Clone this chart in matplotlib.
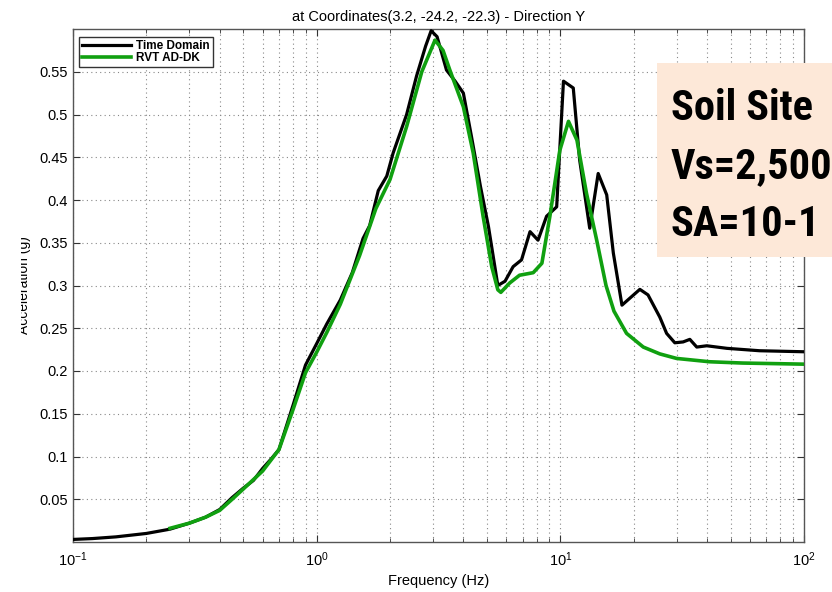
import matplotlib
matplotlib.use("Agg")
import matplotlib.pyplot as plt
from matplotlib.ticker import FixedLocator, NullFormatter, LogLocator
from matplotlib.patches import Rectangle

plt.rcParams['font.family'] = ['Liberation Sans', 'DejaVu Sans']
plt.rcParams['mathtext.default'] = 'regular'

# ---- data ----
freq_td = [0.1, 0.12, 0.15, 0.2, 0.25, 0.3, 0.35, 0.4, 0.45, 0.5, 0.55, 0.6, 0.65, 0.7,
           0.8, 0.9, 1.0, 1.1, 1.25, 1.4, 1.55, 1.65, 1.79, 1.94, 2.06, 2.34, 2.57, 2.8,
           2.95, 3.12, 3.41, 3.70, 4.0, 4.32, 4.70, 5.07, 5.54, 5.93, 6.40, 6.93, 7.51,
           8.1, 8.78, 9.66, 10.3, 11.3, 12.0, 13.2, 14.3, 15.5, 16.5, 17.9, 21.2, 22.9,
           25.6, 27.3, 29.5, 31.9, 34.0, 36.3, 39.9, 48.3, 65.7, 100.0]
acc_td = [0.003, 0.004, 0.006, 0.010, 0.015, 0.022, 0.029, 0.038, 0.052, 0.063, 0.072,
          0.086, 0.097, 0.108, 0.160, 0.207, 0.232, 0.255, 0.283, 0.315, 0.355, 0.370,
          0.411, 0.428, 0.455, 0.500, 0.545, 0.580, 0.598, 0.591, 0.552, 0.539, 0.525,
          0.474, 0.416, 0.369, 0.300, 0.305, 0.322, 0.330, 0.363, 0.353, 0.381, 0.392,
          0.539, 0.531, 0.447, 0.367, 0.431, 0.406, 0.338, 0.277, 0.2955, 0.289, 0.263,
          0.244, 0.233, 0.234, 0.237, 0.228, 0.2295, 0.2265, 0.2237, 0.2225]

freq_rvt = [0.25, 0.3, 0.35, 0.4, 0.45, 0.5, 0.6, 0.7, 0.8, 0.9, 1.0, 1.1, 1.25, 1.5,
            1.75, 2.0, 2.34, 2.7, 3.06, 3.3, 3.52, 4.0, 4.39, 4.82, 5.23, 5.54, 5.7,
            6.2, 6.8, 7.74, 8.4, 9.06, 9.95, 10.8, 11.7, 12.8, 14.1, 15.4, 16.6, 18.7,
            21.9, 25.6, 30.0, 41.0, 56.0, 100.0]
acc_rvt = [0.016, 0.022, 0.029, 0.037, 0.050, 0.062, 0.083, 0.108, 0.155, 0.198, 0.222,
           0.245, 0.278, 0.335, 0.390, 0.424, 0.486, 0.550, 0.587, 0.575, 0.552, 0.509,
           0.455, 0.381, 0.322, 0.295, 0.292, 0.303, 0.312, 0.315, 0.326, 0.381, 0.458,
           0.492, 0.470, 0.408, 0.353, 0.300, 0.270, 0.244, 0.228, 0.220, 0.2147, 0.2108,
           0.2093, 0.208]

y_ticks = [0.05, 0.1, 0.15, 0.2, 0.25, 0.3, 0.35, 0.4, 0.45, 0.5, 0.55]
y_labels = ['0.05', '0.1', '0.15', '0.2', '0.25', '0.3', '0.35', '0.4', '0.45', '0.5', '0.55']
series_names = ['Time Domain', 'RVT AD-DK']
title = 'at Coordinates(3.2, -24.2, -22.3) - Direction Y'
note_lines = ['Soil Site', 'Vs=2,500', 'SA=10-1']

# ---- figure ----
W, H = 832, 592
fig = plt.figure(figsize=(W / 100, H / 100), dpi=100)
ax = fig.add_axes([73 / W, 1 - 542 / H, (804 - 73) / W, (542 - 29) / H])

ax.plot(freq_td, acc_td, color='black', lw=2.3, label=series_names[0], zorder=3)
ax.plot(freq_rvt, acc_rvt, color='#10a010', lw=2.6, label=series_names[1], zorder=4)

ax.set_xscale('log')
ax.set_xlim(0.1, 100)
ax.set_ylim(0, 0.6)
ax.yaxis.set_major_locator(FixedLocator(y_ticks))
ax.set_yticklabels(y_labels)
ax.xaxis.set_major_locator(LogLocator(base=10, numticks=10))
ax.xaxis.set_minor_locator(LogLocator(base=10, subs=range(2, 10), numticks=20))
ax.xaxis.set_minor_formatter(NullFormatter())

ax.grid(True, which='major', axis='both', linestyle=(0, (1, 3)), color='#888888', lw=0.8)
ax.grid(True, which='minor', axis='x', linestyle=(0, (1, 3)), color='#888888', lw=0.8)

ax.tick_params(which='both', direction='in', top=True, right=True, labelsize=10.5,
               colors='#333333', labelcolor='black')
ax.tick_params(which='major', length=5)
ax.tick_params(which='minor', length=3)
ax.tick_params(axis='x', pad=6)
for s in ax.spines.values():
    s.set_color('#555555')
    s.set_linewidth(1.0)

ax.set_title(title, fontsize=10.5, pad=6)
ax.set_xlabel('Frequency (Hz)', fontsize=10.5, labelpad=4)
ax.set_ylabel('Acceleration (g)', fontsize=10)
ax.yaxis.set_label_coords(-0.058, 0.5)

leg = ax.legend(loc='upper left', bbox_to_anchor=(0.008, 0.985), fancybox=False,
                framealpha=1, edgecolor='#333333', borderpad=0.25, labelspacing=0.05,
                handlelength=4.2, handletextpad=0.4, borderaxespad=0.0,
                prop={'weight': 'bold', 'size': 8.5})
leg.get_frame().set_linewidth(1.0)

# clip the y label's left part like the reference
fig.patches.append(Rectangle((0, 0), 21 / W, 1, transform=fig.transFigure,
                             facecolor='white', edgecolor='none', zorder=10))

# annotation box
fig.patches.append(Rectangle((657 / W, 1 - 257 / H), (W - 657) / W + 0.01, (257 - 63) / H,
                             transform=fig.transFigure, facecolor='#fde8d8',
                             edgecolor='none', zorder=5))
narrow = ['Arial Narrow', 'Liberation Sans Narrow', 'Roboto Condensed', 'Archivo Narrow',
          'PT Sans Narrow', 'IBM Plex Sans Condensed', 'Open Sans Condensed', 'Liberation Sans']
for i, line in enumerate(note_lines):
    fig.text(671 / W, 1 - (120 + 58 * i) / H, line, fontsize=30.5, fontweight='bold',
             family=narrow, ha='left', va='baseline', zorder=6)

fig.savefig('out.png', dpi=100)
